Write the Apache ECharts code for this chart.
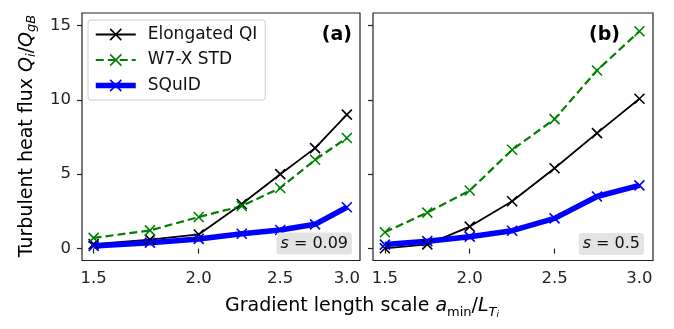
<!DOCTYPE html>
<html>
<head>
<meta charset="utf-8">
<script src="https://cdn.jsdelivr.net/npm/echarts@6/dist/echarts.min.js"></script>
<style>
html,body{margin:0;padding:0;background:#fff;}
#c{width:674px;height:329px;}
</style>
</head>
<body>
<div id="c"></div>
<script>
// ---- data ----
const xValues = [1.5, 1.75, 2.0, 2.25, 2.5, 2.75, 3.0];
const seriesNames = ['Elongated QI', 'W7-X STD', 'SQuID'];
// panel (a), s = 0.09
const elongA = [0.3, 0.6, 0.95, 3.0, 5.0, 6.75, 9.0];
const w7xA   = [0.72, 1.22, 2.12, 2.86, 4.07, 5.97, 7.43];
const squidA = [0.18, 0.4, 0.65, 1.0, 1.25, 1.63, 2.78];
// panel (b), s = 0.5
const elongB = [0.02, 0.28, 1.48, 3.18, 5.4, 7.76, 10.07];
const w7xB   = [1.1, 2.42, 3.9, 6.64, 8.7, 11.97, 14.6];
const squidB = [0.27, 0.5, 0.8, 1.2, 2.03, 3.5, 4.25];
// ticks
const xTicks = [1.5, 2.0, 2.5, 3.0];
const yTicks = [0, 5, 10, 15];
const panelLabels = ['(a)', '(b)'];
const shearLabels = ['0.09', '0.5'];

const FONT = 'DejaVu Sans';
const xMarker = 'path://M0,0L10,10M10,0L0,10';
const colors = ['#000000', '#008000', '#0000ff'];
const widths = [1.8, 2.2, 5.5];
const dashes = ['solid', [8, 4], 'solid'];

function pairs(ys){ return xValues.map((x,i)=>[x, ys[i]]); }

function mkSeries(k, ys, idx){
  return {
    name: seriesNames[k], type: 'line', xAxisIndex: idx, yAxisIndex: idx,
    data: pairs(ys),
    symbol: xMarker, symbolSize: 10, showAllSymbol: true,
    lineStyle: {color: colors[k], width: widths[k], type: dashes[k]},
    itemStyle: {color: colors[k], borderColor: colors[k], borderWidth: 1.6},
    emphasis: {disabled: true},
    animation: false, z: 2
  };
}

function xAxis(idx, type, min, max){
  return {
    type: type, gridIndex: idx, min: min, max: max, logBase: 10,
    axisLine: {show: false},
    splitLine: {show: false},
    axisTick: {show: true, length: 5, customValues: xTicks, lineStyle: {color: '#222', width: 1.2}},
    axisLabel: {customValues: xTicks, margin: 10, color: '#222', fontFamily: FONT, fontSize: 16.5,
      formatter: v => Number(v).toFixed(1)}
  };
}
function yAxis(idx, showLabels){
  return {
    type: 'value', gridIndex: idx, min: -0.8, max: 15.83,
    axisLine: {show: false},
    splitLine: {show: false},
    axisTick: {show: true, length: 5, customValues: yTicks, lineStyle: {color: '#222', width: 1.2}},
    axisLabel: {show: showLabels, customValues: yTicks, margin: 11, color: '#222', fontFamily: FONT, fontSize: 16.5,
      formatter: v => String(v)}
  };
}

const richLabel = {
  n: {fontFamily: FONT, fontSize: 19, lineHeight: 22, color: '#111', verticalAlign: 'middle'},
  i: {fontFamily: FONT, fontSize: 19, lineHeight: 22, fontStyle: 'italic', color: '#111', verticalAlign: 'middle'},
  s: {fontFamily: FONT, fontSize: 13, lineHeight: 22, color: '#111', verticalAlign: 'bottom'},
  si: {fontFamily: FONT, fontSize: 13, lineHeight: 22, fontStyle: 'italic', color: '#111', verticalAlign: 'bottom'},
  ss: {fontFamily: FONT, fontSize: 9, lineHeight: 26, fontStyle: 'italic', color: '#111', verticalAlign: 'bottom'}
};

const chart = echarts.init(document.getElementById('c'), null, {renderer: 'canvas'});
chart.setOption({
  animation: false,
  backgroundColor: '#fff',
  grid: [
    {left: 82, top: 13, right: 314, bottom: 68.5, show: true, borderColor: '#222', borderWidth: 1.2, backgroundColor: 'transparent'},
    {left: 373, top: 13, right: 21, bottom: 68.5, show: true, borderColor: '#222', borderWidth: 1.2, backgroundColor: 'transparent'}
  ],
  xAxis: [xAxis(0, 'log', 1.453, 3.11), xAxis(1, 'value', 1.43, 3.08)],
  yAxis: [yAxis(0, true), yAxis(1, false)],
  legend: {
    data: seriesNames.map((n, k) => ({name: n, lineStyle: {width: widths[k], color: colors[k], type: dashes[k]},
      itemStyle: {color: colors[k], borderColor: colors[k], borderWidth: 1.6}})),
    orient: 'vertical', left: 88, top: 20,
    itemWidth: 40, itemHeight: 14, itemGap: 8.5,
    padding: [6, 8, 6, 5],
    backgroundColor: 'rgba(255,255,255,0.8)', borderColor: '#ccc', borderWidth: 1, borderRadius: 3,
    textStyle: {fontFamily: FONT, fontSize: 17, color: '#111', lineHeight: 17, padding: [0, 0, 0, 7]}
  },
  series: [
    mkSeries(0, elongA, 0),
    mkSeries(1, w7xA, 0),
    mkSeries(2, squidA, 0),
    mkSeries(0, elongB, 1),
    mkSeries(1, w7xB, 1),
    mkSeries(2, squidB, 1)
  ],
  graphic: [
    {type: 'text', x: 27, y: 136, rotation: Math.PI/2, silent: true,
      style: {text: '{n|Turbulent heat flux }{i|Q}{si|i}{n|/}{i|Q}{si|gB}', rich: richLabel, align: 'center', verticalAlign: 'middle'}},
    {type: 'text', x: 362, y: 306, silent: true,
      style: {text: '{n|Gradient length scale }{i|a}{s|min}{n|/}{i|L}{si|T}{ss|i}', rich: richLabel, align: 'center', verticalAlign: 'middle'}},
    {type: 'text', x: 352, y: 35, silent: true,
      style: {text: panelLabels[0], fontFamily: FONT, fontSize: 19, fontWeight: 'bold', fill: '#000', align: 'right', verticalAlign: 'middle'}},
    {type: 'text', x: 620, y: 35, silent: true,
      style: {text: panelLabels[1], fontFamily: FONT, fontSize: 19, fontWeight: 'bold', fill: '#000', align: 'right', verticalAlign: 'middle'}},
    {type: 'text', x: 352, y: 243.5, silent: true, z: 10,
      style: {text: '{i|s} = ' + shearLabels[0], fontFamily: FONT, fontSize: 16, fill: '#111', align: 'right', verticalAlign: 'middle',
        backgroundColor: '#e3e3e3', borderRadius: 3, padding: [3, 4, 3, 4],
        rich: {i: {fontFamily: FONT, fontSize: 16, fontStyle: 'italic', fill: '#111'}}}},
    {type: 'text', x: 644, y: 244, silent: true, z: 10,
      style: {text: '{i|s} = ' + shearLabels[1], fontFamily: FONT, fontSize: 16, fill: '#111', align: 'right', verticalAlign: 'middle',
        backgroundColor: '#e3e3e3', borderRadius: 3, padding: [3, 4, 3, 4],
        rich: {i: {fontFamily: FONT, fontSize: 16, fontStyle: 'italic', fill: '#111'}}}}
  ]
});
</script>
</body>
</html>
